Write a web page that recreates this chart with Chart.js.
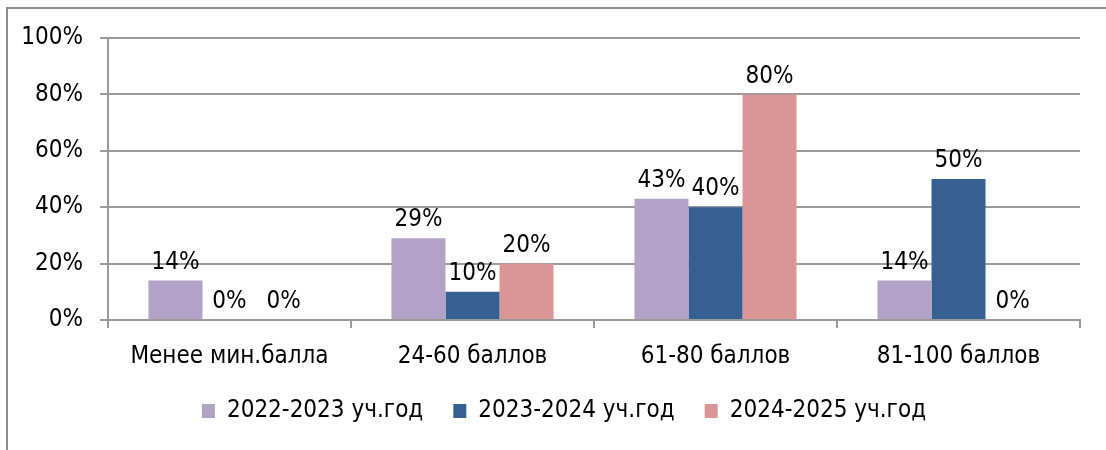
<!DOCTYPE html>
<html>
<head>
<meta charset="utf-8">
<script src="https://cdn.jsdelivr.net/npm/chart.js@4"></script>
<style>
  html, body { margin: 0; padding: 0; background: #fff; }
  #wrap { position: relative; width: 1106px; height: 450px; overflow: hidden; }
  #frame { position: absolute; left: 6px; top: 7px; width: 1200px; height: 600px; border: 2px solid #8c8c8c; }
  #chart { position: absolute; left: 0; top: 0; }
</style>
</head>
<body>
<div id="wrap">
  <div id="frame"></div>
  <canvas id="chart" width="1106" height="450"></canvas>
</div>
<script>
// --------------------
// Data
// --------------------
const categories = ['Менее мин.балла', '24-60 баллов', '61-80 баллов', '81-100 баллов'];
const seriesNames = ['2022-2023 уч.год', '2023-2024 уч.год', '2024-2025 уч.год'];
const values2022 = [14, 29, 43, 14];
const values2023 = [0, 10, 40, 50];
const values2024 = [0, 20, 80, 0];
const yTicks = [0, 20, 40, 60, 80, 100];

const colors = ['#B2A2C7', '#376092', '#D99694'];
const FONT = "'Liberation Sans Narrow', 'DejaVu Sans Condensed', 'Liberation Sans', sans-serif";
const FSIZE = 24;
const gridColor = '#9a9a9a';

// labels above each bar, placed from the bar element itself
const barLabels = {
  id: 'barLabels',
  afterDatasetsDraw(chart) {
    const ctx = chart.ctx;
    ctx.save();
    ctx.fillStyle = '#000';
    ctx.font = FSIZE + 'px ' + FONT;
    ctx.textAlign = 'center';
    ctx.textBaseline = 'middle';
    chart.data.datasets.forEach((ds, i) => {
      const meta = chart.getDatasetMeta(i);
      meta.data.forEach((bar, j) => {
        ctx.fillText(ds.data[j] + '%', bar.x, bar.y - 18);
      });
    });
    ctx.restore();
  }
};

// nudge the legend row a bit to the right, like the original
const legendShift = {
  id: 'legendShift',
  afterLayout(chart) {
    if (chart.legend) chart.legend.left += 48;
  }
};

new Chart(document.getElementById('chart'), {
  type: 'bar',
  data: {
    labels: categories,
    datasets: [
      { label: seriesNames[0], data: values2022, backgroundColor: colors[0] },
      { label: seriesNames[1], data: values2023, backgroundColor: colors[1] },
      { label: seriesNames[2], data: values2024, backgroundColor: colors[2] }
    ]
  },
  options: {
    responsive: false,
    animation: false,
    devicePixelRatio: 1,
    layout: { padding: { top: 38, right: 26, left: 0, bottom: 17 } },
    datasets: { bar: { categoryPercentage: 0.667, barPercentage: 1 } },
    plugins: {
      legend: {
        position: 'bottom',
        labels: {
          boxWidth: 13,
          boxHeight: 14,
          padding: 30,
          color: '#000',
          font: { family: FONT, size: FSIZE }
        }
      },
      tooltip: { enabled: false }
    },
    scales: {
      x: {
        afterFit(scale) { scale.height = 49; },
        grid: {
          offset: true,
          drawOnChartArea: false,
          tickLength: 8,
          color: gridColor,
          lineWidth: 2
        },
        border: { color: gridColor, width: 2 },
        ticks: { color: '#000', padding: 14, font: { family: FONT, size: FSIZE } }
      },
      y: {
        min: 0,
        max: 100,
        afterFit(scale) { scale.width = 108; },
        afterBuildTicks(scale) { scale.ticks = yTicks.map(v => ({ value: v })); },
        grid: { color: gridColor, lineWidth: 2, tickLength: 8 },
        border: { color: gridColor, width: 2 },
        ticks: {
          color: '#000',
          padding: 17,
          font: { family: FONT, size: FSIZE },
          callback: v => v + '%'
        }
      }
    }
  },
  plugins: [barLabels, legendShift]
});
</script>
</body>
</html>
